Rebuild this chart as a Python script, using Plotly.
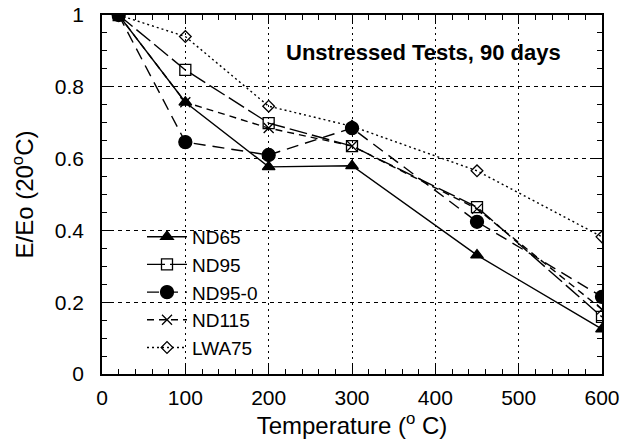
import plotly.graph_objects as go

temps = [20, 100, 200, 300, 450, 600]
nd65 = [1.0, 0.757, 0.577, 0.580, 0.331, 0.125]
nd95 = [1.0, 0.847, 0.699, 0.635, 0.465, 0.159]
nd95_0 = [1.0, 0.646, 0.610, 0.685, 0.424, 0.215]
nd115 = [1.0, 0.757, 0.685, 0.635, 0.460, 0.180]
lwa75 = [1.0, 0.940, 0.746, 0.690, 0.566, 0.382]

xticks = [0, 100, 200, 300, 400, 500, 600]
yticks = [0, 0.2, 0.4, 0.6, 0.8, 1.0]
ytick_labels = ["0", "0.2", "0.4", "0.6", "0.8", "1"]

series = [
    ("ND65", nd65, "solid", "triangle-up", 11),
    ("ND95", nd95, "18px,5px", "square-open", 11),
    ("ND95-0", nd95_0, "12px,7px", "circle", 13),
    ("ND115", nd115, "7px,5px", "x-thin-open", 10),
    ("LWA75", lwa75, "2px,3px", "diamond-open", 9),
]

FONT = "Liberation Sans, Arial, sans-serif"
fig = go.Figure()
for name, vals, dash, sym, size in series:
    fig.add_trace(go.Scatter(
        x=temps, y=vals, name=name, mode="lines+markers",
        line=dict(color="black", width=1.4, dash=dash),
        marker=dict(symbol=sym, size=size, color="black",
                    line=dict(color="black", width=1.3)),
    ))

axis_common = dict(
    showline=True, linecolor="black", linewidth=1.5, mirror="allticks",
    ticks="inside", ticklen=9, tickwidth=1.3, tickcolor="black",
    showgrid=True, gridcolor="black", gridwidth=1.3,
    zeroline=False, automargin=False, ticklabeloverflow="allow",
    tickfont=dict(family=FONT, size=21, color="black"),
)

fig.update_xaxes(
    range=[0, 600], tickvals=xticks, griddash="2px,4px", ticklabelstandoff=4,
    minor=dict(dtick=20, tick0=0, ticks="inside", ticklen=5, tickcolor="black", showgrid=False),
    title=dict(text="Temperature (<sup>o</sup> C)", font=dict(family=FONT, size=24, color="black"), standoff=4),
    **axis_common,
)
fig.update_yaxes(
    range=[0, 1], tickvals=yticks, ticktext=ytick_labels, griddash="4px,4px", ticklabelstandoff=12,
    minor=dict(dtick=0.05, tick0=0, ticks="inside", ticklen=5, tickcolor="black", showgrid=False),
    title=dict(text="E/Eo (20<sup>o</sup>C)", font=dict(family=FONT, size=24, color="black"), standoff=14),
    **axis_common,
)

fig.add_annotation(
    x=0.642, y=0.936, xref="paper", yref="paper",
    text="<b>Unstressed Tests, 90 days</b>", showarrow=False,
    font=dict(family=FONT, size=22, color="black"),
)

fig.update_layout(
    width=633, height=445,
    margin=dict(l=102, r=31, t=15, b=71),
    paper_bgcolor="white", plot_bgcolor="white",
    showlegend=True,
    legend=dict(
        x=0.08, y=0.435, xanchor="left", yanchor="top",
        bgcolor="rgba(0,0,0,0)", borderwidth=0,
        font=dict(family=FONT, size=19, color="black"),
        itemwidth=40, tracegroupgap=0,
    ),
)

# remove the default 8px page margin so the figure fills the window exactly
fig.write_html("out.html", config={"displayModeBar": False},
               post_script="document.body.style.margin='0';")
